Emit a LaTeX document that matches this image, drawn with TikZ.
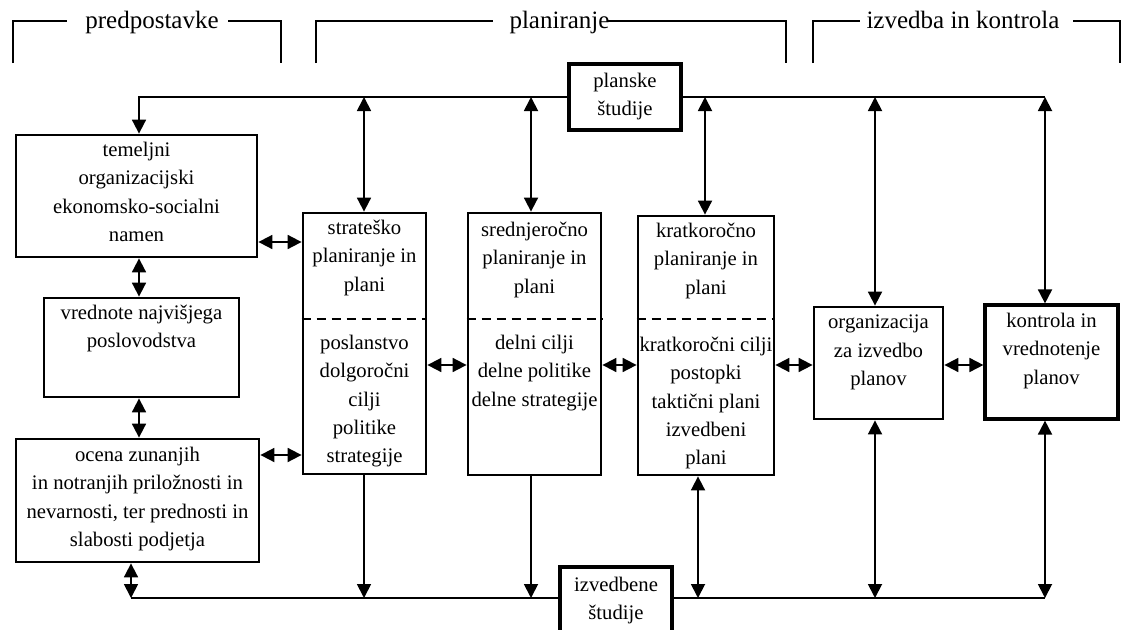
\documentclass[tikz,border=0pt]{standalone}
\usepackage{fontspec}
\setmainfont{Liberation Serif}
\usetikzlibrary{arrows.meta}
\begin{document}
\begin{tikzpicture}[x=1pt,y=-1pt,
  box/.style={draw, line width=2.8pt, fill=white, inner sep=0pt},
  thickbox/.style={box, line width=3.2pt},
  lbl/.style={align=center, inner sep=0pt, anchor=north, font=\fontsize{20.7}{28.3}\selectfont, execute at begin node={\rule{0pt}{15pt}}},
  hdr/.style={inner sep=0pt, anchor=base, font=\fontsize{25}{29}\selectfont},
  conn/.style={line width=1.8pt},
  dblarrow/.style={conn, {Triangle[length=14pt,width=14pt]}-{Triangle[length=14pt,width=14pt]}},
  onearrow/.style={conn, -{Triangle[length=14pt,width=14pt]}},
  brk/.style={line width=2.6pt},
  dashsep/.style={line width=2.2pt, dash pattern=on 9pt off 6pt}
]
\path[use as bounding box, clip] (0,0) rectangle (1123,629);
\fill[white] (0,0) rectangle (1123,629);

% headers
\node[hdr] (hPred) at (152,28) {predpostavke};
\node[hdr] (hPlan) at (559.5,28) {planiranje};
\node[hdr] (hIzv) at (963,28) {izvedba in kontrola};
\draw[brk] (13,63) -- (13,21) -- (67,21);
\draw[brk] (228,21) -- (281,21) -- (281,63);
\draw[brk] (316,63) -- (316,21) -- (493,21);
\draw[brk] (608,21) -- (786,21) -- (786,63);
\draw[brk] (813,63) -- (813,21) -- (860,21);
\draw[brk] (1073,21) -- (1120,21) -- (1120,63);

% boxes
\node[box, minimum width=241pt, minimum height=122pt] (temeljni) at (136.5,196) {};
\node[box, minimum width=195pt, minimum height=99pt] (vrednote) at (141.5,347.5) {};
\node[box, minimum width=243pt, minimum height=123pt] (ocena) at (137.5,500.5) {};
\node[box, minimum width=123pt, minimum height=261pt] (strat) at (364.5,343.5) {};
\node[box, minimum width=133pt, minimum height=262pt] (sred) at (534.5,344) {};
\node[box, minimum width=136pt, minimum height=259pt] (krat) at (706,345.5) {};
\node[box, minimum width=129pt, minimum height=112pt] (org) at (878.5,363) {};
\node[thickbox, minimum width=133pt, minimum height=114pt] (kont) at (1051.5,362) {};
\node[thickbox, minimum width=112pt, minimum height=66pt] (planske) at (625,97) {};
\node[thickbox, minimum width=112pt, minimum height=76pt] (izv) at (616,605) {};

% dashed separators
\coordinate (dY) at (0,319);
\draw[dashsep] (strat.west |- dY) -- (strat.east |- dY);
\draw[dashsep] (sred.west |- dY) -- (sred.east |- dY);
\draw[dashsep] (krat.west |- dY) -- (krat.east |- dY);

% texts
\node[lbl] (temeljniT) at (136.5,142) {temeljni\\organizacijski\\ekonomsko-socialni\\namen};
\node[lbl] (vrednoteT) at (141.5,305) {vrednote najvišjega\\poslovodstva};
\node[lbl] (ocenaT) at (137.5,447) {ocena zunanjih\\in notranjih priložnosti in\\nevarnosti, ter prednosti in\\slabosti podjetja};
\node[lbl] (stratA) at (364.5,220) {strateško\\planiranje in\\plani};
\node[lbl] (stratB) at (364.5,335) {poslanstvo\\dolgoročni\\cilji\\politike\\strategije};
\node[lbl] (sredA) at (534.5,222) {srednjeročno\\planiranje in\\plani};
\node[lbl] (sredB) at (534.5,335) {delni cilji\\delne politike\\delne strategije};
\node[lbl] (kratA) at (706,223) {kratkoročno\\planiranje in\\plani};
\node[lbl] (kratB) at (706,337) {kratkoročni cilji\\postopki\\taktični plani\\izvedbeni\\plani};
\node[lbl] (orgT) at (878.5,315) {organizacija\\za izvedbo\\planov};
\node[lbl] (kontT) at (1051.5,313) {kontrola in\\vrednotenje\\planov};
\node[lbl] (planT) at (625,73) {planske\\študije};
\node[lbl] (izvT) at (616,577) {izvedbene\\študije};

% top line
\coordinate (tY) at (0,97);
\coordinate (tL) at (139,97);
\coordinate (t1) at (364,97);
\coordinate (t2) at (531,97);
\coordinate (t3) at (705,97);
\coordinate (t4) at (875,97);
\coordinate (t5) at (1045,97);
\draw[onearrow] (planske.west |- tY) -- (tL) -- (temeljni.north -| tL);
\draw[conn] (planske.east |- tY) -- (t5);
\draw[dblarrow] (t1) -- (strat.north -| t1);
\draw[dblarrow] (t2) -- (sred.north -| t2);
\draw[dblarrow] (t3) -- (krat.north -| t3);
\draw[dblarrow] (t4) -- (org.north -| t4);
\draw[dblarrow] (t5) -- (kont.north -| t5);

% bottom line
\coordinate (bL) at (131,598);
\coordinate (b1) at (364,598);
\coordinate (b2) at (531,598);
\coordinate (b3) at (698,598);
\coordinate (b4) at (875,598);
\coordinate (b5) at (1045,598);
\draw[conn] (bL) -- (izv.west |- bL);
\draw[conn] (izv.east |- bL) -- (b5);
\draw[dblarrow] (ocena.south -| bL) -- (bL);
\draw[onearrow] (strat.south -| b1) -- (b1);
\draw[onearrow] (sred.south -| b2) -- (b2);
\draw[dblarrow] (krat.south -| b3) -- (b3);
\draw[dblarrow] (org.south -| b4) -- (b4);
\draw[dblarrow] (kont.south -| b5) -- (b5);

% left verticals
\coordinate (vx) at (139,0);
\draw[dblarrow] (temeljni.south -| vx) -- (vrednote.north -| vx);
\draw[dblarrow] (vrednote.south -| vx) -- (ocena.north -| vx);

% horizontals
\coordinate (h1) at (0,242);
\coordinate (h2) at (0,455);
\coordinate (h3) at (0,365);
\draw[dblarrow] (temeljni.east |- h1) -- (strat.west |- h1);
\draw[dblarrow] (ocena.east |- h2) -- (strat.west |- h2);
\draw[dblarrow] (strat.east |- h3) -- (sred.west |- h3);
\draw[dblarrow] (sred.east |- h3) -- (krat.west |- h3);
\draw[dblarrow] (krat.east |- h3) -- (org.west |- h3);
\draw[dblarrow] (org.east |- h3) -- (kont.west |- h3);
\end{tikzpicture}
\end{document}
